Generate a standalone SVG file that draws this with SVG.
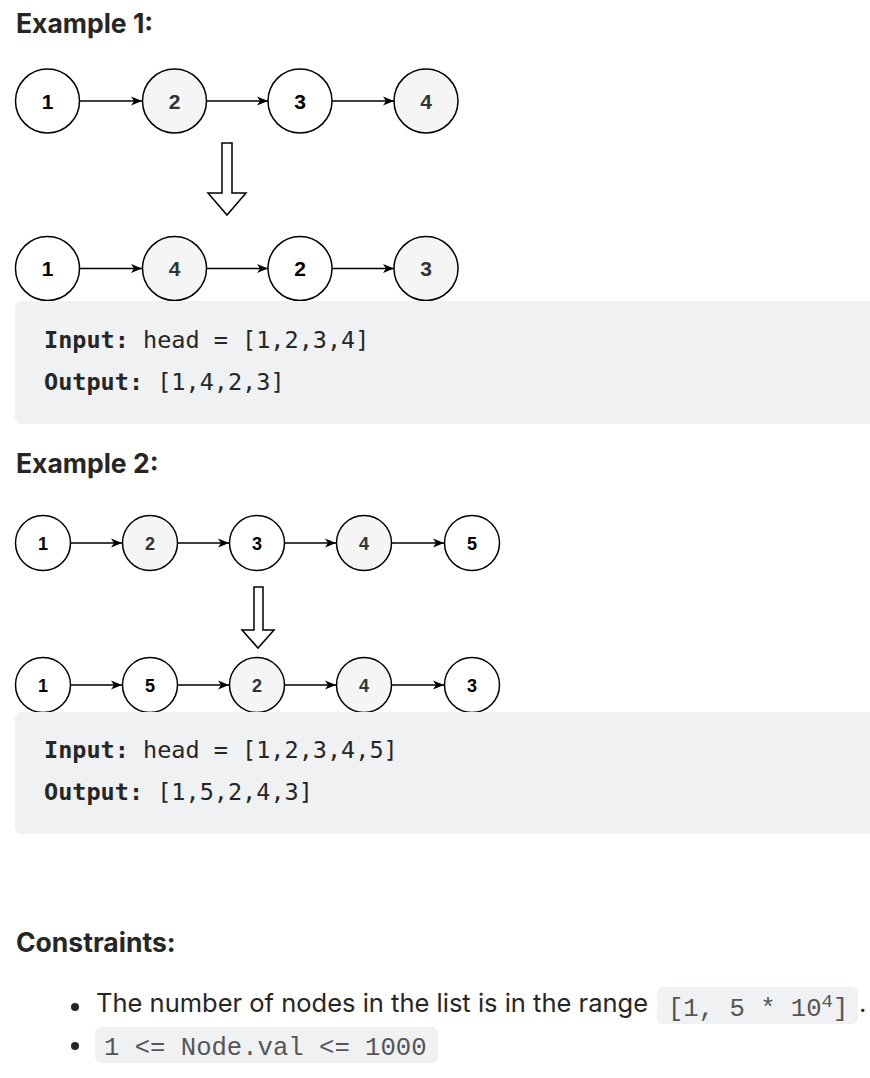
<svg xmlns="http://www.w3.org/2000/svg" width="870" height="1078" viewBox="0 0 870 1078">
  <style>
    .h { font-family: Inter, "Liberation Sans", sans-serif; font-weight: 700; font-size: 26.5px; fill: #262626; }
    .body { font-family: Inter, "Liberation Sans", sans-serif; font-size: 25.5px; fill: #262626; }
    .code { font-family: "DejaVu Sans Mono", "Liberation Mono", monospace; font-size: 23.5px; fill: #262626; }
    .code .k { font-weight: 700; }
    .icode { font-family: "Liberation Mono", monospace; font-size: 25.6px; fill: #555; }
    .box { fill: #f0f1f3; }
    .ibox { fill: #f0f1f3; }
    .n { stroke: #000; stroke-width: 1.5; fill: #fff; }
    .n.g { fill: #f5f5f5; }
    .t1 { font-family: "Liberation Sans", Arial, sans-serif; font-weight: 700; font-size: 21px; fill: #000; text-anchor: middle; }
    .t2 { font-family: "Liberation Sans", Arial, sans-serif; font-weight: 700; font-size: 18px; fill: #000; text-anchor: middle; }
    text.gt { fill: #333; }
    .edge { stroke: #000; stroke-width: 1.5; fill: none; marker-end: url(#ah); }
    .big { stroke: #000; stroke-width: 1.5; fill: #fff; stroke-linejoin: miter; }
  </style>
  <defs>
    <marker id="ah" markerWidth="14" markerHeight="12" refX="11" refY="6" orient="auto" markerUnits="userSpaceOnUse">
      <path d="M0,1.5 L11,6 L0,10.5 L3,6 Z" fill="#000"/>
    </marker>
  </defs>

  <rect width="870" height="1078" fill="#fff"/>

  <!-- Example 1 -->
  <text class="h" x="16" y="33">Example 1:</text>

  <g id="ex1-connectors">
    <line class="edge" x1="80" y1="101" x2="142" y2="101"/>
    <line class="edge" x1="207" y1="101" x2="268" y2="101"/>
    <line class="edge" x1="332" y1="101" x2="394" y2="101"/>
    <line class="edge" x1="80" y1="268.5" x2="142" y2="268.5"/>
    <line class="edge" x1="207" y1="268.5" x2="268" y2="268.5"/>
    <line class="edge" x1="332" y1="268.5" x2="394" y2="268.5"/>
    <polygon class="big" points="222,143 232,143 232,193 246,193 227,215 208,193 222,193"/>
  </g>

  <g id="ex1-a1"><circle class="n" cx="47.5" cy="101" r="32"/><text class="t1" x="47.5" y="108.5">1</text></g>
  <g id="ex1-a2"><circle class="n g" cx="174.5" cy="101" r="32"/><text class="t1 gt" x="174.5" y="108.5">2</text></g>
  <g id="ex1-a3"><circle class="n" cx="300" cy="101" r="32"/><text class="t1" x="300" y="108.5">3</text></g>
  <g id="ex1-a4"><circle class="n g" cx="426" cy="101" r="32"/><text class="t1 gt" x="426" y="108.5">4</text></g>

  <g id="ex1-b1"><circle class="n" cx="47.5" cy="268.5" r="32"/><text class="t1" x="47.5" y="276">1</text></g>
  <g id="ex1-b2"><circle class="n g" cx="174.5" cy="268.5" r="32"/><text class="t1 gt" x="174.5" y="276">4</text></g>
  <g id="ex1-b3"><circle class="n" cx="300" cy="268.5" r="32"/><text class="t1" x="300" y="276">2</text></g>
  <g id="ex1-b4"><circle class="n g" cx="426" cy="268.5" r="32"/><text class="t1 gt" x="426" y="276">3</text></g>

  <g id="ex1-io">
    <rect class="box" x="15" y="301" width="870" height="123" rx="6"/>
    <text class="code" x="44" y="348"><tspan class="k">Input:</tspan> head = [1,2,3,4]</text>
    <text class="code" x="44" y="390"><tspan class="k">Output:</tspan> [1,4,2,3]</text>
  </g>

  <!-- Example 2 -->
  <text class="h" x="16" y="473">Example 2:</text>

  <g id="ex2-connectors">
    <line class="edge" x1="71" y1="543" x2="122" y2="543"/>
    <line class="edge" x1="178" y1="543" x2="229" y2="543"/>
    <line class="edge" x1="285" y1="543" x2="336" y2="543"/>
    <line class="edge" x1="392" y1="543" x2="444" y2="543"/>
    <line class="edge" x1="71" y1="685" x2="122" y2="685"/>
    <line class="edge" x1="178" y1="685" x2="229" y2="685"/>
    <line class="edge" x1="285" y1="685" x2="336" y2="685"/>
    <line class="edge" x1="392" y1="685" x2="444" y2="685"/>
    <polygon class="big" points="254,587 263,587 263,630 274,630 258,648 242,630 254,630"/>
  </g>

  <g id="ex2-a1"><circle class="n" cx="43" cy="543" r="27.5"/><text class="t2" x="43" y="549.5">1</text></g>
  <g id="ex2-a2"><circle class="n g" cx="150" cy="543" r="27.5"/><text class="t2 gt" x="150" y="549.5">2</text></g>
  <g id="ex2-a3"><circle class="n" cx="257" cy="543" r="27.5"/><text class="t2" x="257" y="549.5">3</text></g>
  <g id="ex2-a4"><circle class="n g" cx="364" cy="543" r="27.5"/><text class="t2 gt" x="364" y="549.5">4</text></g>
  <g id="ex2-a5"><circle class="n" cx="472" cy="543" r="27.5"/><text class="t2" x="472" y="549.5">5</text></g>

  <g id="ex2-b1"><circle class="n" cx="43" cy="685" r="27.5"/><text class="t2" x="43" y="691.5">1</text></g>
  <g id="ex2-b2"><circle class="n" cx="150" cy="685" r="27.5"/><text class="t2" x="150" y="691.5">5</text></g>
  <g id="ex2-b3"><circle class="n g" cx="257" cy="685" r="27.5"/><text class="t2 gt" x="257" y="691.5">2</text></g>
  <g id="ex2-b4"><circle class="n g" cx="364" cy="685" r="27.5"/><text class="t2 gt" x="364" y="691.5">4</text></g>
  <g id="ex2-b5"><circle class="n" cx="472" cy="685" r="27.5"/><text class="t2" x="472" y="691.5">3</text></g>

  <g id="ex2-io">
    <rect class="box" x="15" y="712" width="870" height="122" rx="6"/>
    <text class="code" x="44" y="758"><tspan class="k">Input:</tspan> head = [1,2,3,4,5]</text>
    <text class="code" x="44" y="800"><tspan class="k">Output:</tspan> [1,5,2,4,3]</text>
  </g>

  <!-- Constraints -->
  <text class="h" x="16" y="952">Constraints:</text>

  <g id="constraint-1">
    <circle cx="75" cy="1007" r="4" fill="#262626"/>
    <text class="body" x="96" y="1012">The number of nodes in the list is in the range</text>
    <rect class="ibox" x="657" y="987" width="201" height="37" rx="6"/>
    <text class="icode" x="668" y="1016">[1, 5 * 10<tspan font-size="19" dy="-9">4</tspan><tspan dy="9">]</tspan></text>
    <text class="body" x="859" y="1012">.</text>
  </g>

  <g id="constraint-2">
    <circle cx="75" cy="1046" r="4" fill="#262626"/>
    <rect class="ibox" x="95" y="1027" width="343" height="36" rx="6"/>
    <text class="icode" x="104" y="1055">1 &lt;= Node.val &lt;= 1000</text>
  </g>
</svg>
